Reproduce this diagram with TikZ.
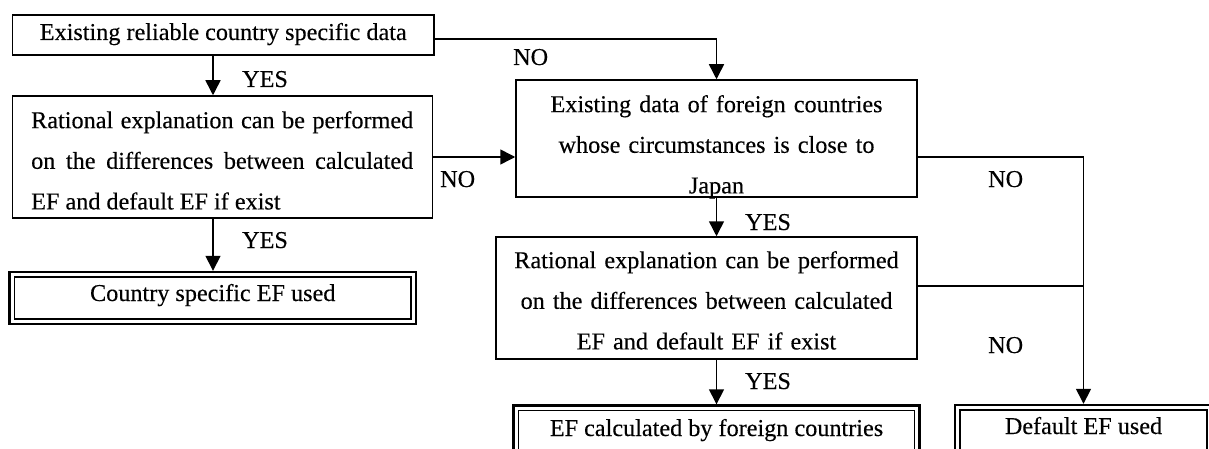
\documentclass[tikz,border=0pt]{standalone}
\usepackage{fontspec}
\setmainfont{Liberation Serif}[FakeBold=0.3]
\usetikzlibrary{arrows.meta}
\begin{document}
\begin{tikzpicture}[x=1pt,y=-1pt,
  box/.style={draw, line width=1.5pt, inner sep=0pt},
  outerbox/.style={draw, line width=2.4pt, inner sep=0pt},
  innerframe/.style={draw, line width=1.5pt},
  txt/.style={inner sep=0pt, font=\fontsize{24.2}{40.6}\selectfont},
  para/.style={txt, anchor=north, text width=#1},
  lab/.style={txt, anchor=base west},
  flow/.style={line width=1.5pt},
  arr/.style={flow, -{Triangle[length=15pt,width=15pt]}}
]
\useasboundingbox (0,0) rectangle (1209,449);
\fill[white] (0,0) rectangle (1209,449);
\clip (0,0) rectangle (1209,449);

% left column
\node[box, minimum width=421.5pt, minimum height=40pt] (b1) at (223.25,35) {};
\node[txt, anchor=base] (t1) at (223.25,40) {Existing reliable country specific data};

\node[box, minimum width=420pt, minimum height=122pt] (b2) at (222.5,157) {};
\node[para=382pt, anchor=north west, align=justify] (t2) at (31,110)
  {\hyphenpenalty=10000\rule{0pt}{18pt}Rational explanation can be performed on the differences between calculated EF and default EF if exist};

\node[outerbox, minimum width=406.5pt, minimum height=52pt] (b3) at (212.75,298) {};
\draw[innerframe] ([shift={(6,6)}]b3.north west) rectangle ([shift={(-6,-6)}]b3.south east);
\node[txt, anchor=base] (t3) at (212.75,301) {Country specific EF used};

% middle column
\node[box, minimum width=401pt, minimum height=117pt] (b4) at (716.5,138.5) {};
\node[para=395pt, align=center] (t4) at (716.5,94)
  {\rule{0pt}{18pt}Existing data of foreign countries\\whose circumstances is close to\\Japan};

\node[box, minimum width=421pt, minimum height=122pt] (b5) at (706.5,298) {};
\node[para=410pt, align=center] (t5) at (706.5,250)
  {\rule{0pt}{18pt}Rational explanation can be performed\\on the differences between calculated\\EF and default EF if exist};

\node[outerbox, minimum width=406pt, minimum height=52pt] (b6) at (716.5,431.5) {};
\draw[innerframe] ([shift={(6,6)}]b6.north west) rectangle ([shift={(-6,-6)}]b6.south east);
\node[txt, anchor=base] (t6) at (716.5,436) {EF calculated by foreign countries};

% right column
\node[outerbox, minimum width=257pt, minimum height=52pt] (b7) at (1083.5,431) {};
\draw[innerframe] ([shift={(6,6)}]b7.north west) rectangle ([shift={(-6,-6)}]b7.south east);
\node[txt, anchor=base] (t7) at (1083.5,434) {Default EF used};

% junction points of the right-hand NO branch
\coordinate (j1) at (1083.5,157);
\coordinate (j2) at (1083.5,286);

% connectors
\draw[arr] (b1.south -| 213,0) -- (b2.north -| 213,0);
\draw[arr] (b2.south -| 213,0) -- (b3.north -| 213,0);
\draw[arr] ([yshift=-4pt]b1.east) -| (b4.north);
\draw[arr] (b2.east) -- (b2.east -| b4.west);
\draw[arr] (b4.south) -- (b4.south |- b5.north);
\draw[arr] (b4.south |- b5.south) -- (b4.south |- b6.north);
\draw[arr] (b4.east |- j1) -- (j1) -- (b7.north);
\draw[flow] (b5.east |- j2) -- (j2);

% branch labels
\node[lab] (y1) at (242,87) {YES};
\node[lab] (y2) at (242,248) {YES};
\node[lab] (y3) at (745,230) {YES};
\node[lab] (y4) at (745,389) {YES};
\node[lab] (n1) at (513,65) {NO};
\node[lab] (n2) at (440,187) {NO};
\node[lab] (n3) at (988,187) {NO};
\node[lab] (n4) at (988,353) {NO};
\end{tikzpicture}
\end{document}
